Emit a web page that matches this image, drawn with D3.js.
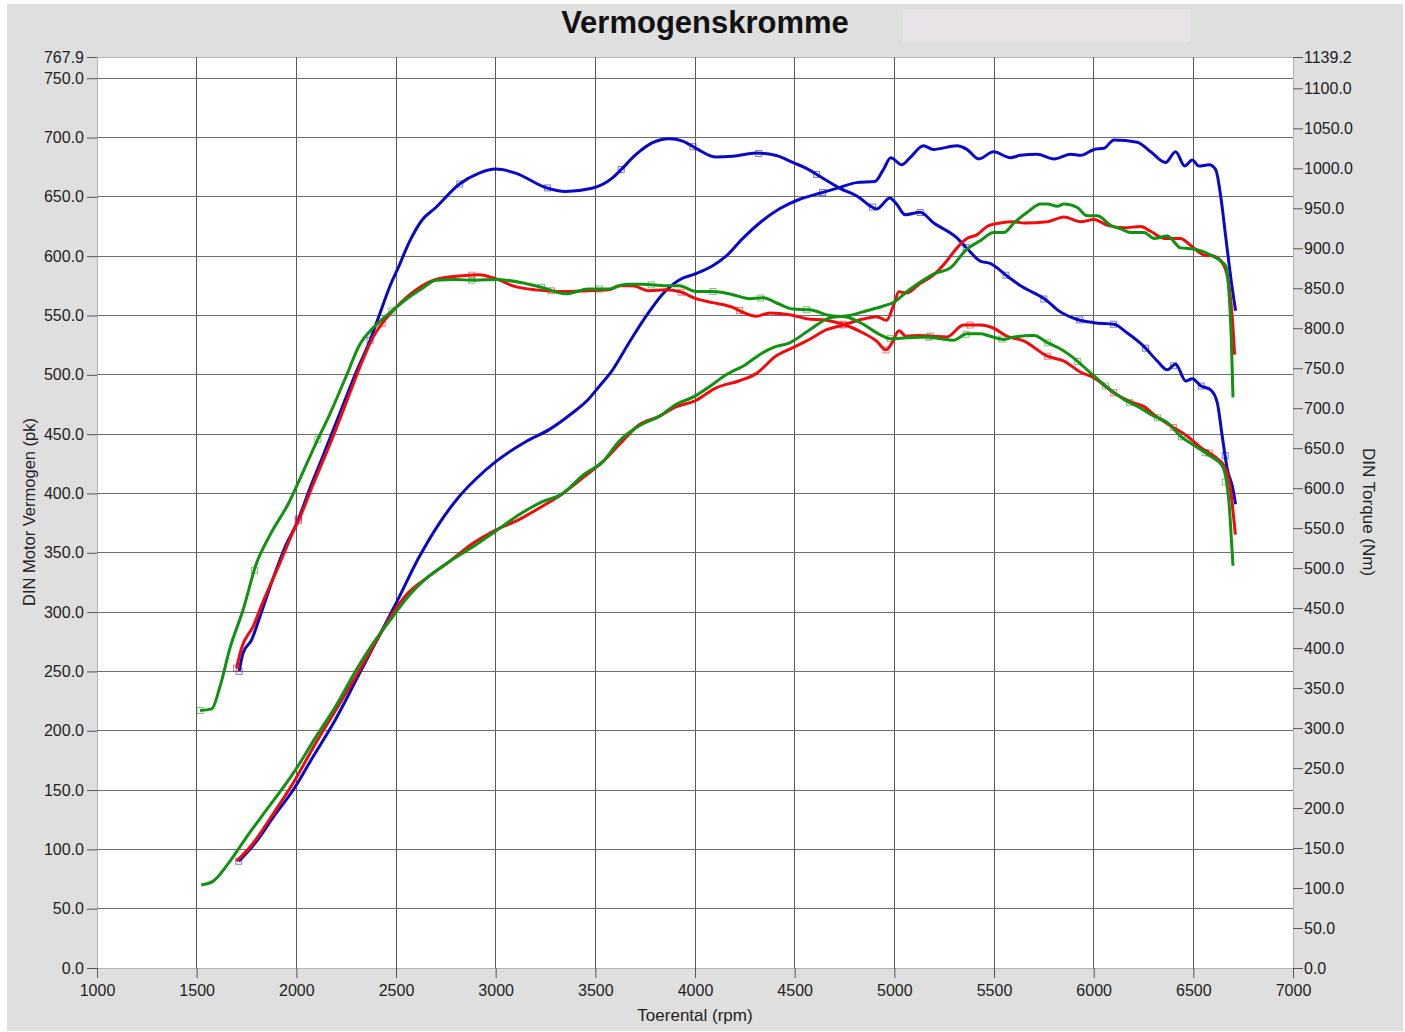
<!DOCTYPE html>
<html>
<head>
<meta charset="utf-8">
<script src="https://cdn.jsdelivr.net/npm/d3@7.9.0/dist/d3.min.js"></script>
<style>
  body { margin: 0; background: #fff; }
  svg { display: block; font-family: "Liberation Sans", Arial, sans-serif; }
</style>
</head>
<body>
<svg id="chart" width="1405" height="1032"></svg>
<script>
// x-axis / tick values
const rpmTicks = [1000, 1500, 2000, 2500, 3000, 3500, 4000, 4500, 5000, 5500, 6000, 6500, 7000];
const powerTicks = [0, 50, 100, 150, 200, 250, 300, 350, 400, 450, 500, 550, 600, 650, 700, 750, 767.9];
const torqueTicks = [0, 50, 100, 150, 200, 250, 300, 350, 400, 450, 500, 550, 600, 650, 700, 750, 800,
  850, 900, 950, 1000, 1050, 1100, 1139.2];

// torque curves, [rpm, Nm]
const blueTorque = [[1713,371],[1733,394],[1775,410],[1817,439],[1883,487],[1950,530],[2000,555],[2067,599],[2133,640],[2217,693],[2300,745],[2367,783],[2417,817],[2467,851],[2517,879],[2567,908],[2633,936],[2700,951],[2817,980],[2917,994],[3000,999],[3100,994],[3250,976],[3350,971],[3483,975],[3586,988],[3628,998],[3703,1017],[3787,1032],[3871,1037],[3938,1034],[4005,1025],[4106,1014],[4190,1015],[4307,1019],[4408,1016],[4493,1007],[4559,1000],[4626,990],[4727,975],[4827,963],[4878,953],[4911,949],[4978,963],[5012,955],[5054,942],[5129,945],[5196,932],[5314,913],[5364,900],[5431,884],[5481,881],[5567,865],[5634,853],[5768,834],[5818,823],[5918,811],[6002,807],[6102,805],[6169,794],[6253,777],[6319,759],[6369,748],[6411,755],[6462,734],[6495,737],[6537,728],[6587,723],[6620,707],[6645,665],[6671,623],[6696,602],[6712,580]];
const redTorque = [[1700,375],[1725,400],[1783,427],[1833,458],[1917,506],[1983,545],[2017,563],[2083,604],[2167,654],[2250,707],[2333,760],[2383,788],[2433,807],[2500,826],[2600,848],[2700,861],[2800,865],[2917,867],[3000,862],[3100,852],[3200,848],[3333,846],[3467,847],[3567,848],[3619,853],[3686,853],[3770,847],[3854,848],[3921,846],[4005,837],[4089,832],[4190,826],[4240,820],[4307,815],[4374,819],[4475,817],[4559,812],[4660,810],[4743,805],[4844,794],[4911,784],[4958,773],[4987,781],[5023,797],[5059,790],[5129,791],[5196,790],[5263,789],[5347,804],[5431,804],[5498,800],[5567,790],[5651,784],[5768,765],[5851,759],[5935,745],[6002,738],[6102,719],[6186,708],[6253,702],[6303,692],[6386,678],[6470,665],[6537,651],[6604,640],[6654,628],[6684,603],[6700,569],[6711,542]];
const greenTorque = [[1517,322],[1575,324],[1617,352],[1667,400],[1733,448],[1800,506],[1867,541],[1967,584],[2017,611],[2100,657],[2167,692],[2250,740],[2317,779],[2383,800],[2467,819],[2550,836],[2633,850],[2700,860],[2800,861],[2883,860],[3000,861],[3133,857],[3233,851],[3350,843],[3467,849],[3567,849],[3653,855],[3737,855],[3854,853],[3921,853],[4005,846],[4089,846],[4190,842],[4273,837],[4341,838],[4424,830],[4492,824],[4576,823],[4676,816],[4760,814],[4844,805],[4928,792],[4978,787],[5062,788],[5163,789],[5230,787],[5297,785],[5364,793],[5431,793],[5481,790],[5548,786],[5600,789],[5701,791],[5768,782],[5834,774],[5918,759],[5985,744],[6069,726],[6152,711],[6236,700],[6303,690],[6370,682],[6436,665],[6520,651],[6587,640],[6645,628],[6679,582],[6690,540],[6699,503]];

// power curves, [rpm, pk]
const bluePower = [[1711,90],[1792,105],[1888,128],[1984,150],[2080,177],[2195,209],[2310,246],[2406,277],[2502,308],[2618,347],[2714,374],[2810,396],[2906,413],[3002,427],[3155,444],[3270,454],[3386,468],[3463,479],[3518,490],[3586,504],[3669,527],[3753,549],[3837,568],[3921,580],[4000,585],[4089,592],[4156,600],[4240,615],[4324,628],[4424,640],[4525,648],[4626,653],[4727,658],[4810,662],[4903,663],[4945,673],[4982,683],[5037,677],[5079,683],[5146,693],[5196,690],[5314,693],[5364,690],[5423,682],[5498,688],[5582,683],[5632,685],[5717,686],[5801,682],[5885,686],[5935,685],[6002,690],[6052,691],[6102,698],[6219,696],[6286,688],[6361,679],[6411,688],[6457,676],[6495,681],[6528,676],[6579,677],[6612,673],[6637,651],[6662,617],[6687,583],[6712,554]];
const redPower = [[1700,90],[1773,103],[1888,131],[1984,156],[2099,190],[2214,222],[2310,249],[2406,277],[2483,299],[2560,316],[2656,329],[2771,343],[2886,358],[2998,369],[3117,378],[3232,389],[3328,399],[3443,414],[3539,427],[3619,441],[3720,458],[3820,465],[3904,473],[4000,478],[4106,489],[4223,495],[4307,501],[4408,516],[4492,523],[4576,530],[4660,538],[4743,542],[4844,547],[4911,549],[4961,546],[4995,558],[5023,570],[5062,569],[5129,577],[5196,584],[5263,596],[5314,607],[5364,615],[5414,618],[5465,625],[5532,628],[5599,629],[5651,628],[5768,629],[5851,633],[5935,629],[6002,631],[6069,626],[6152,624],[6236,625],[6286,621],[6353,615],[6436,615],[6487,609],[6553,601],[6604,600],[6654,592],[6679,575],[6696,547],[6707,517]];
const greenPower = [[1523,70],[1581,73],[1658,88],[1753,111],[1849,133],[1984,164],[2099,195],[2195,220],[2310,254],[2387,274],[2483,296],[2560,313],[2656,329],[2771,343],[2886,355],[2998,368],[3117,382],[3232,393],[3328,399],[3443,416],[3539,427],[3619,444],[3720,457],[3820,465],[3904,475],[4000,482],[4072,490],[4156,500],[4257,509],[4324,517],[4391,523],[4475,527],[4576,538],[4676,548],[4777,550],[4861,554],[4945,558],[4995,561],[5062,570],[5129,578],[5196,585],[5280,590],[5364,606],[5431,613],[5498,620],[5550,620],[5600,628],[5667,637],[5734,644],[5768,644],[5818,642],[5851,644],[5918,641],[5968,634],[6018,634],[6085,626],[6136,623],[6186,620],[6253,620],[6303,615],[6370,617],[6436,607],[6503,606],[6587,601],[6637,596],[6662,592],[6679,569],[6690,533],[6699,481]];

// rpm where the small square markers sit
const blueTorqueMarks = [1713, 2010, 2370, 2820, 3260, 3630, 3990, 4320, 4610, 4890, 5130, 5360, 5560, 5750, 5930, 6100, 6260, 6400, 6540, 6660];
const bluePowerMarks = [1711, 4640];
const redTorqueMarks = [1700, 2010, 2430, 2880, 3280, 3930, 4223, 4743, 4958, 5180, 5380, 5768, 6100, 6400, 6580];
const redPowerMarks = [4743];
const greenTorqueMarks = [1517, 1790, 2108, 2480, 2880, 3230, 3520, 3780, 4090, 4330, 4560, 4980, 5170, 5360, 5540, 5770, 5920, 6060, 6180, 6320, 6440, 6560, 6660];
const greenPowerMarks = [];

const BLUE = "#0a0ac4", RED = "#ee0c0c", GREEN = "#129112";

const svg = d3.select("#chart");

// background panel
svg.append("rect").attr("x", 7).attr("y", 4).attr("width", 1396).attr("height", 1027).attr("fill", "#dfdfdf");
svg.append("rect").attr("x", 903).attr("y", 9).attr("width", 287).attr("height", 33).attr("fill", "#e7e3e6");

svg.append("text")
  .attr("x", 705).attr("y", 33)
  .attr("text-anchor", "middle")
  .attr("font-size", 31).attr("font-weight", "bold")
  .attr("fill", "#111")
  .text("Vermogenskromme");

const x = d3.scaleLinear().domain([1000, 7000]).range([97, 1293]);
const yP = d3.scaleLinear().domain([0, 767.9]).range([968, 57]);
const yT = d3.scaleLinear().domain([0, 1139.2]).range([968, 57]);

// plot area
svg.append("rect")
  .attr("x", x(1000)).attr("y", yP(767.9))
  .attr("width", x(7000) - x(1000)).attr("height", yP(0) - yP(767.9))
  .attr("fill", "#fff").attr("stroke", "#b4b4b4").attr("stroke-width", 1)
  .attr("shape-rendering", "crispEdges");

// grid
const grid = svg.append("g").attr("shape-rendering", "crispEdges");
grid.selectAll(".vg")
  .data(rpmTicks.filter((d) => d > 1000 && d < 7000))
  .enter().append("line")
  .attr("x1", (d) => x(d)).attr("x2", (d) => x(d))
  .attr("y1", yP(767.9)).attr("y2", yP(0))
  .attr("stroke", "#5a5a5a");
grid.selectAll(".hg")
  .data(powerTicks.filter((d) => d > 0 && d < 767.9))
  .enter().append("line")
  .attr("x1", x(1000)).attr("x2", x(7000))
  .attr("y1", (d) => yP(d)).attr("y2", (d) => yP(d))
  .attr("stroke", "#6e6e6e");

// axes
const fmt = d3.format(".1f");
function styleAxis(g) {
  g.select(".domain").remove();
  g.selectAll(".tick line").attr("stroke", "#555");
  g.selectAll(".tick text").attr("fill", "#222").attr("font-size", 16)
    .attr("font-family", "'Liberation Sans', Arial, sans-serif");
}

svg.append("g")
  .attr("transform", `translate(${x(1000)},0)`)
  .call(d3.axisLeft(yP).tickValues(powerTicks).tickFormat(fmt).tickSize(10).tickPadding(3))
  .call(styleAxis);

svg.append("g")
  .attr("transform", `translate(${x(7000)},0)`)
  .call(d3.axisRight(yT).tickValues(torqueTicks).tickFormat(fmt).tickSize(10).tickPadding(1))
  .call(styleAxis);

svg.append("g")
  .attr("transform", `translate(0,${yP(0)})`)
  .call(d3.axisBottom(x).tickValues(rpmTicks).tickFormat(d3.format("d")).tickSize(10).tickPadding(7))
  .call(styleAxis);

// axis titles
svg.append("text")
  .attr("transform", "translate(35,512) rotate(-90)")
  .attr("text-anchor", "middle").attr("font-size", 16.5).attr("fill", "#222")
  .text("DIN Motor Vermogen (pk)");
svg.append("text")
  .attr("transform", "translate(1363,512) rotate(90)")
  .attr("text-anchor", "middle").attr("font-size", 17).attr("fill", "#222")
  .text("DIN Torque (Nm)");
svg.append("text")
  .attr("x", 695).attr("y", 1021)
  .attr("text-anchor", "middle").attr("font-size", 17).attr("fill", "#222")
  .text("Toerental (rpm)");

// curves
const series = [
  { data: blueTorque, y: yT, color: BLUE, marks: blueTorqueMarks },
  { data: bluePower, y: yP, color: BLUE, marks: bluePowerMarks },
  { data: redTorque, y: yT, color: RED, marks: redTorqueMarks },
  { data: redPower, y: yP, color: RED, marks: redPowerMarks },
  { data: greenTorque, y: yT, color: GREEN, marks: greenTorqueMarks },
  { data: greenPower, y: yP, color: GREEN, marks: greenPowerMarks },
];

function valueAt(data, rpm) {
  const i = d3.bisector((d) => d[0]).left(data, rpm);
  if (i <= 0) return data[0][1];
  if (i >= data.length) return data[data.length - 1][1];
  const a = data[i - 1], b = data[i];
  return a[1] + (b[1] - a[1]) * (rpm - a[0]) / (b[0] - a[0]);
}

const plot = svg.append("g");
series.forEach((s) => {
  const line = d3.line()
    .x((d) => x(d[0]))
    .y((d) => s.y(d[1]))
    .curve(d3.curveMonotoneX);

  plot.append("path")
    .datum(s.data)
    .attr("d", line)
    .attr("fill", "none")
    .attr("stroke", s.color)
    .attr("stroke-width", 3)
    .attr("stroke-linejoin", "round");

  plot.selectAll(null)
    .data(s.marks)
    .enter().append("rect")
    .attr("x", (d) => x(d) - 3)
    .attr("y", (d) => s.y(valueAt(s.data, d)) - 3)
    .attr("width", 6).attr("height", 6)
    .attr("fill", "none")
    .attr("stroke", s.color)
    .attr("stroke-opacity", 0.55)
    .attr("stroke-width", 1);
});
</script>
</body>
</html>
